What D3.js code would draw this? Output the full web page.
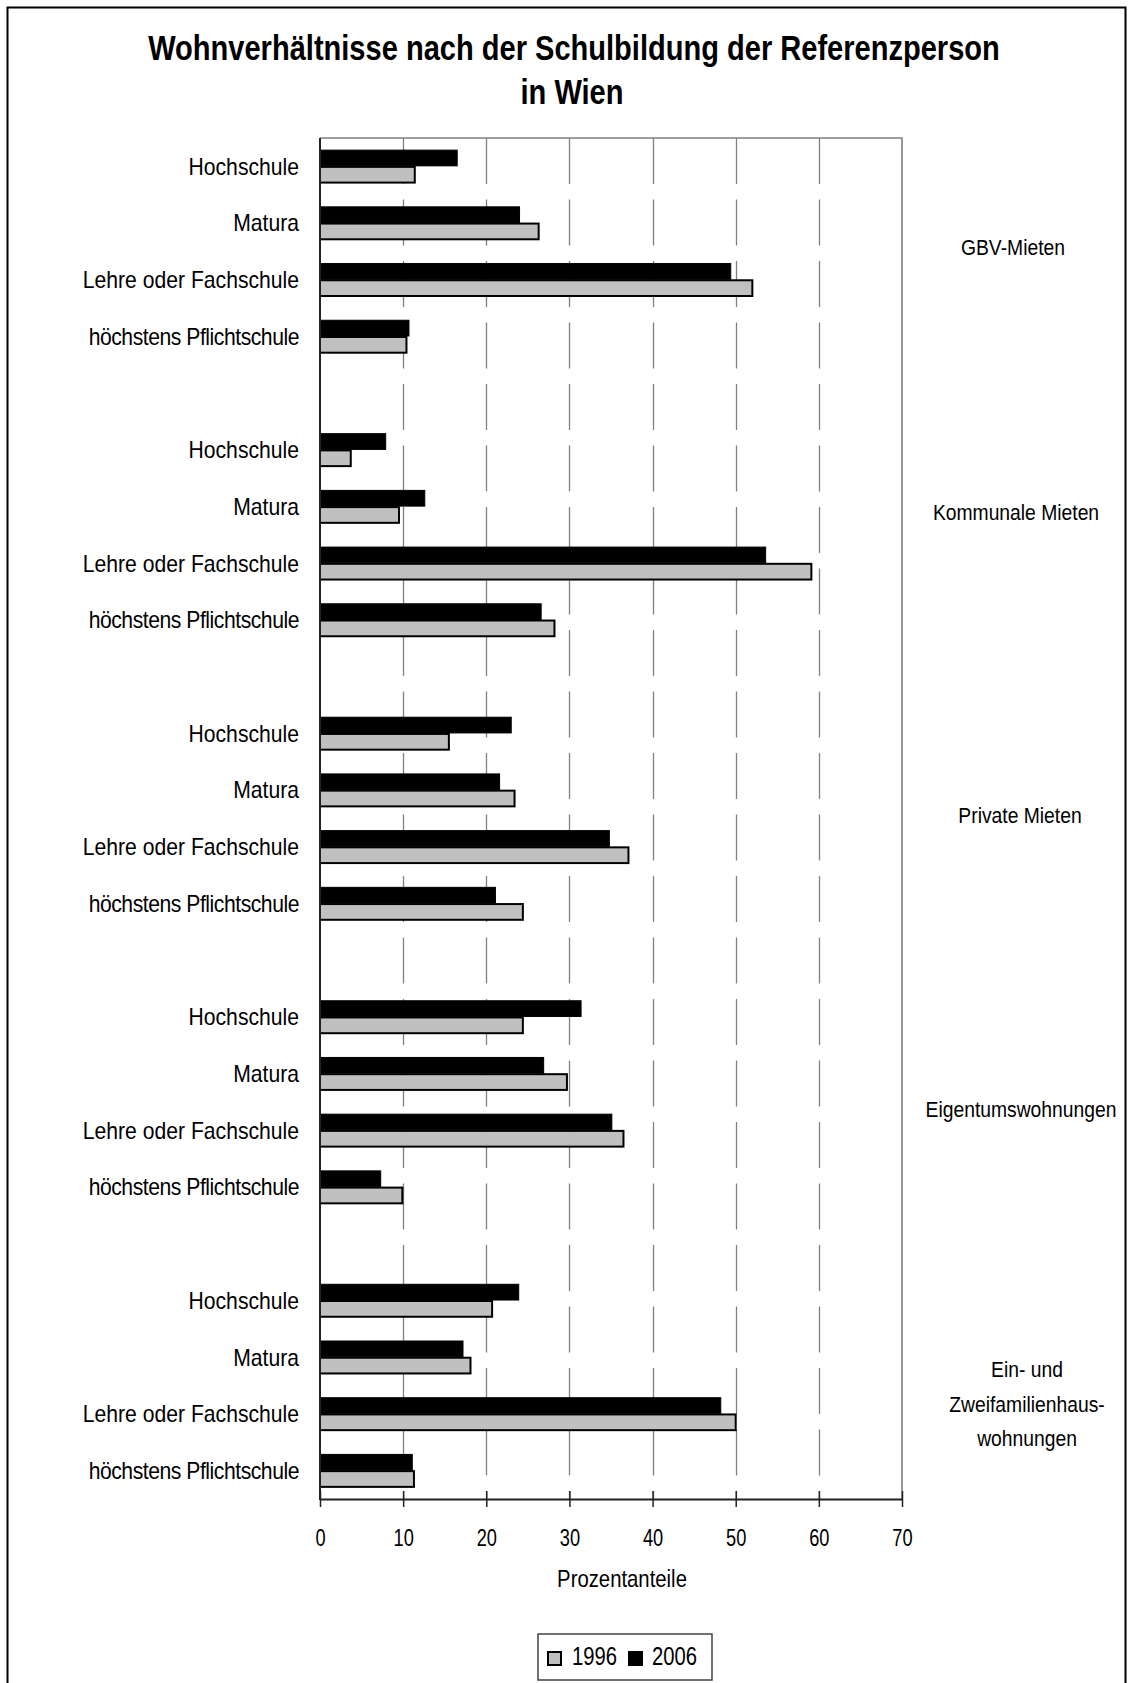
<!DOCTYPE html>
<html>
<head>
<meta charset="utf-8">
<script src="https://cdn.jsdelivr.net/npm/d3@7"></script>
<style>
  html, body { margin: 0; padding: 0; background: #fff; }
  svg { display: block; }
  text { font-family: "Liberation Sans", Arial, sans-serif; fill: #000; }
</style>
</head>
<body>
<script>
// Wohnverhältnisse nach der Schulbildung der Referenzperson, Wien 1996 / 2006 (Prozentanteile)

const education = ["Hochschule", "Matura", "Lehre oder Fachschule", "höchstens Pflichtschule"];
const tenure = ["GBV-Mieten", "Kommunale Mieten", "Private Mieten", "Eigentumswohnungen", "Ein- und Zweifamilienhauswohnungen"];
const tenureLines = [["GBV-Mieten"], ["Kommunale Mieten"], ["Private Mieten"], ["Eigentumswohnungen"], ["Ein- und", "Zweifamilienhaus-", "wohnungen"]];
const years = ["1996", "2006"];

// shares per tenure group, in the order of `education`
const values1996 = [
  [11.4, 26.3, 52.0, 10.4],
  [3.7, 9.5, 59.1, 28.2],
  [15.5, 23.4, 37.1, 24.4],
  [24.4, 29.7, 36.5, 9.9],
  [20.7, 18.1, 50.0, 11.3]
];
const values2006 = [
  [16.5, 24.0, 49.4, 10.7],
  [7.9, 12.6, 53.6, 26.6],
  [23.0, 21.6, 34.8, 21.1],
  [31.4, 26.9, 35.1, 7.3],
  [23.9, 17.2, 48.2, 11.1]
];
const xTicks = [0, 10, 20, 30, 40, 50, 60, 70];
const xTitle = "Prozentanteile";
const titleLines = ["Wohnverhältnisse nach der Schulbildung der Referenzperson", "in Wien"];

const W = 1134, H = 1683;
const plot = { left: 320, right: 902, top: 138, bottom: 1499 };
const colors = { "1996": "#c0c0c0", "2006": "#000000" };

const svg = d3.select("body").append("svg").attr("width", W).attr("height", H);
svg.append("rect").attr("width", W).attr("height", H).attr("fill", "#fff");

// outer frame
svg.append("rect")
  .attr("x", 7.5).attr("y", 7.5).attr("width", 1118).attr("height", 1700)
  .attr("fill", "none").attr("stroke", "#000").attr("stroke-width", 2);

// text drawn with a horizontal squeeze
function label(parent, x, y, str, o) {
  const g = parent.append("g").attr("transform", `translate(${x},${y}) scale(${o.sx},1)`);
  return g.append("text")
    .attr("text-anchor", o.anchor || "start")
    .attr("font-size", o.size)
    .attr("font-weight", o.weight || "normal")
    .attr("letter-spacing", o.ls || null)
    .text(str);
}

// title
label(svg, 574, 60, titleLines[0], { sx: 0.83, size: 35, weight: "bold", anchor: "middle" });
label(svg, 572, 104, titleLines[1], { sx: 0.83, size: 35, weight: "bold", anchor: "middle" });

// category slots: four education levels per group, an empty slot between groups
const rows = [];
const slots = [];
tenure.forEach((t, gi) => {
  education.forEach((e, ei) => {
    const key = gi + "|" + ei;
    slots.push(key);
    rows.push({ key, group: gi, edu: e, "1996": values1996[gi][ei], "2006": values2006[gi][ei] });
  });
  if (gi < tenure.length - 1) slots.push("gap" + gi);
});

const x = d3.scaleLinear().domain([0, 70]).range([plot.left, plot.right]);
const y = d3.scaleBand().domain(slots).range([plot.top, plot.bottom])
  .paddingInner(0.41).paddingOuter(0.205);
const ySub = d3.scaleBand().domain(["2006", "1996"]).range([0, y.bandwidth()]);

// vertical dashed gridlines
svg.append("g").selectAll("line")
  .data(xTicks.filter(t => t > 0 && t < 70))
  .join("line")
  .attr("x1", d => Math.round(x(d)) + 0.5).attr("x2", d => Math.round(x(d)) + 0.5)
  .attr("y1", plot.top).attr("y2", plot.bottom)
  .attr("stroke", "#808080").attr("stroke-width", 1.3)
  .attr("stroke-dasharray", "46,15.5");

// plot frame (top and right)
svg.append("path")
  .attr("d", `M${plot.left},${plot.top}H${plot.right}V${plot.bottom}`)
  .attr("fill", "none").attr("stroke", "#808080").attr("stroke-width", 1.6);

// bars
const rowG = svg.append("g").selectAll("g").data(rows).join("g")
  .attr("transform", d => `translate(0,${y(d.key)})`);

rowG.selectAll("rect")
  .data(d => years.map(yr => ({ yr, v: d[yr] })))
  .join("rect")
  .attr("x", x(0))
  .attr("y", d => ySub(d.yr) + 0.5)
  .attr("width", d => x(d.v) - x(0))
  .attr("height", ySub.bandwidth() - 1)
  .attr("fill", d => colors[d.yr])
  .attr("stroke", "#000")
  .attr("stroke-width", d => d.yr === "1996" ? 2 : 1);

// category axis
svg.append("line")
  .attr("x1", plot.left).attr("x2", plot.left)
  .attr("y1", plot.top).attr("y2", plot.bottom + 1)
  .attr("stroke", "#222").attr("stroke-width", 2);

rows.forEach(r => {
  label(svg, 299, y(r.key) + y.bandwidth() / 2 + 8.3, r.edu,
    { sx: 0.92, size: 23, anchor: "end", ls: r.edu.startsWith("höchstens") ? -0.5 : null });
});

// value axis
const xAxis = svg.append("g")
  .attr("transform", `translate(0,${plot.bottom})`)
  .call(d3.axisBottom(x).tickValues(xTicks).tickSizeInner(7).tickSizeOuter(0).tickPadding(0));
xAxis.select(".domain").attr("stroke", "#222").attr("stroke-width", 2);
xAxis.selectAll(".tick line").attr("y1", -8).attr("y2", 8).attr("stroke", "#222").attr("stroke-width", 1.5);
xAxis.selectAll(".tick text")
  .attr("y", 47).attr("dy", null)
  .attr("font-size", 24)
  .attr("font-family", "Liberation Sans, Arial, sans-serif")
  .attr("fill", "#000")
  .attr("transform", "scale(0.76,1)");

label(svg, 622, 1587, xTitle, { sx: 0.847, size: 24, anchor: "middle" });

// tenure group names on the right
const groupLabelPos = [
  { x: 1013, y: 247 },
  { x: 1016, y: 512 },
  { x: 1020, y: 815 },
  { x: 1021, y: 1109 },
  { x: 1027, y: 1404 }
];
tenureLines.forEach((lines, gi) => {
  const p = groupLabelPos[gi];
  const lh = 34.5;
  lines.forEach((ln, li) => {
    const cy = p.y + (li - (lines.length - 1) / 2) * lh;
    label(svg, p.x, cy + 7.8, ln, { sx: 0.877, size: 22, anchor: "middle" });
  });
});

// legend
const lg = svg.append("g");
lg.append("rect")
  .attr("x", 538).attr("y", 1634).attr("width", 174).attr("height", 46)
  .attr("fill", "#fff").attr("stroke", "#444").attr("stroke-width", 1.5);
const legendItems = [
  { yr: "1996", sx: 548, tx: 572 },
  { yr: "2006", sx: 629, tx: 652 }
];
legendItems.forEach(it => {
  lg.append("rect")
    .attr("x", it.sx).attr("y", 1652).attr("width", 13).attr("height", 13)
    .attr("fill", colors[it.yr]).attr("stroke", "#000").attr("stroke-width", 2);
  label(lg, it.tx, 1665, it.yr, { sx: 0.79, size: 25.6, anchor: "start" });
});
</script>
</body>
</html>
